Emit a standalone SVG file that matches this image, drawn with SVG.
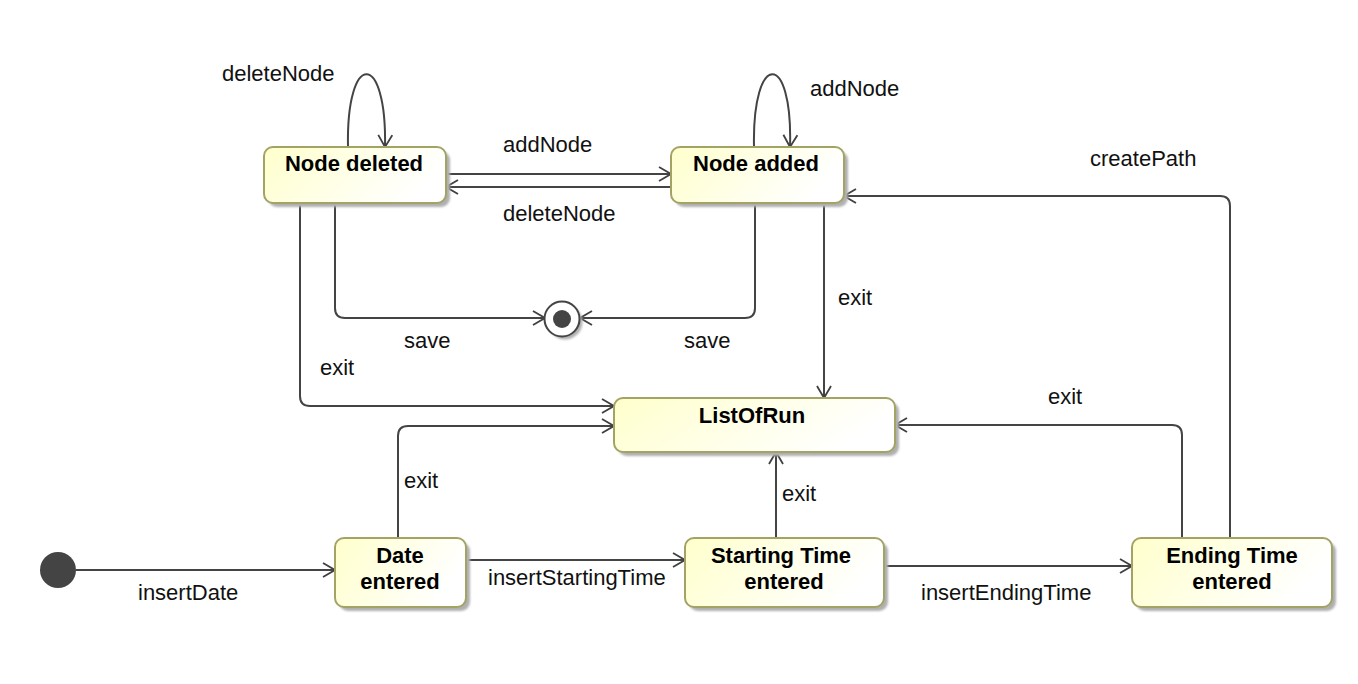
<svg xmlns="http://www.w3.org/2000/svg" width="1358" height="684" viewBox="0 0 1358 684">
<defs>
<linearGradient id="g" x1="0" y1="0" x2="1" y2="0.3">
<stop offset="0" stop-color="#FFFFCC"/>
<stop offset="1" stop-color="#FFFFFF"/>
</linearGradient>
<filter id="sh" x="-10%" y="-10%" width="130%" height="140%">
<feGaussianBlur stdDeviation="1.2"/>
</filter>
<marker id="arr" viewBox="0 0 14 16" refX="13" refY="8" markerWidth="14" markerHeight="16" markerUnits="userSpaceOnUse" orient="auto">
<path d="M1,1 L13,8 L1,15" fill="none" stroke="#404040" stroke-width="1.8"/>
</marker>
</defs>
<style>
.shadow{fill:#B0B0B0;filter:url(#sh)}
.box{fill:url(#g);stroke:#A3A366;stroke-width:2}
.title{font-family:"Liberation Sans",Arial,sans-serif;font-weight:bold;font-size:22px;fill:#000;text-anchor:middle}
.lbl{font-family:"Liberation Sans",Arial,sans-serif;font-size:22px;fill:#111}
.edge{fill:none;stroke:#444;stroke-width:2;marker-end:url(#arr)}
</style>
<rect width="1358" height="684" fill="#fff"/>

<g id="connectors">
<path class="edge" d="M76,570 H335"/>
<path class="edge" d="M466,560 H685"/>
<path class="edge" d="M884,566 H1132"/>
<path class="edge" d="M398,538 V436 Q398,426 408,426 H614"/>
<path class="edge" d="M776,538 V452"/>
<path class="edge" d="M1182,538 V435 Q1182,425 1172,425 H895"/>
<path class="edge" d="M1230,538 V206 Q1230,196 1220,196 H844"/>
<path class="edge" d="M824,203 V398"/>
<path class="edge" d="M300,203 V396 Q300,406 310,406 H614"/>
<path class="edge" d="M335,203 V308 Q335,318 345,318 H545"/>
<path class="edge" d="M755,203 V308 Q755,318 745,318 H580"/>
<path class="edge" d="M446,174 H671"/>
<path class="edge" d="M671,187 H446"/>
<path class="edge" d="M348,147 C346,50 387,50 385,147"/>
<path class="edge" d="M754,147 C752,50 793,50 790,147"/>
<text class="lbl" x="222" y="81">deleteNode</text>
<text class="lbl" x="503" y="152">addNode</text>
<text class="lbl" x="503" y="221">deleteNode</text>
<text class="lbl" x="810" y="96">addNode</text>
<text class="lbl" x="1090" y="166">createPath</text>
<text class="lbl" x="838" y="305">exit</text>
<text class="lbl" x="404" y="348">save</text>
<text class="lbl" x="684" y="348">save</text>
<text class="lbl" x="320" y="375">exit</text>
<text class="lbl" x="1048" y="404">exit</text>
<text class="lbl" x="404" y="488">exit</text>
<text class="lbl" x="782" y="501">exit</text>
<text class="lbl" x="138" y="600">insertDate</text>
<text class="lbl" x="488" y="585">insertStartingTime</text>
<text class="lbl" x="921" y="600">insertEndingTime</text>
</g>

<g id="initial">
<circle cx="58" cy="570" r="18" fill="#444"/>
</g>

<g id="final">
<circle cx="565" cy="322" r="17.5" class="shadow"/>
<circle cx="562" cy="319" r="17.5" fill="#fff" stroke="#444" stroke-width="2"/>
<circle cx="562" cy="319" r="9" fill="#444"/>
</g>

<g id="node-deleted">
<rect class="shadow" x="268" y="151" width="182" height="56" rx="9"/>
<rect class="box" x="264" y="147" width="182" height="56" rx="9"/>
<text class="title" x="354" y="171">Node deleted</text>
</g>

<g id="node-added">
<rect class="shadow" x="675" y="151" width="173" height="56" rx="9"/>
<rect class="box" x="671" y="147" width="173" height="56" rx="9"/>
<text class="title" x="756" y="171">Node added</text>
</g>

<g id="list-of-run">
<rect class="shadow" x="618" y="402" width="281" height="54" rx="9"/>
<rect class="box" x="614" y="398" width="281" height="54" rx="9"/>
<text class="title" x="752" y="423">ListOfRun</text>
</g>

<g id="date-entered">
<rect class="shadow" x="339" y="542" width="131" height="69" rx="9"/>
<rect class="box" x="335" y="538" width="131" height="69" rx="9"/>
<text class="title" x="400" y="563">Date</text>
<text class="title" x="400" y="589">entered</text>
</g>

<g id="starting-time-entered">
<rect class="shadow" x="689" y="542" width="199" height="69" rx="9"/>
<rect class="box" x="685" y="538" width="199" height="69" rx="9"/>
<text class="title" x="781" y="563">Starting Time</text>
<text class="title" x="784" y="589">entered</text>
</g>

<g id="ending-time-entered">
<rect class="shadow" x="1136" y="542" width="200" height="69" rx="9"/>
<rect class="box" x="1132" y="538" width="200" height="69" rx="9"/>
<text class="title" x="1232" y="563">Ending Time</text>
<text class="title" x="1232" y="589">entered</text>
</g>
</svg>
